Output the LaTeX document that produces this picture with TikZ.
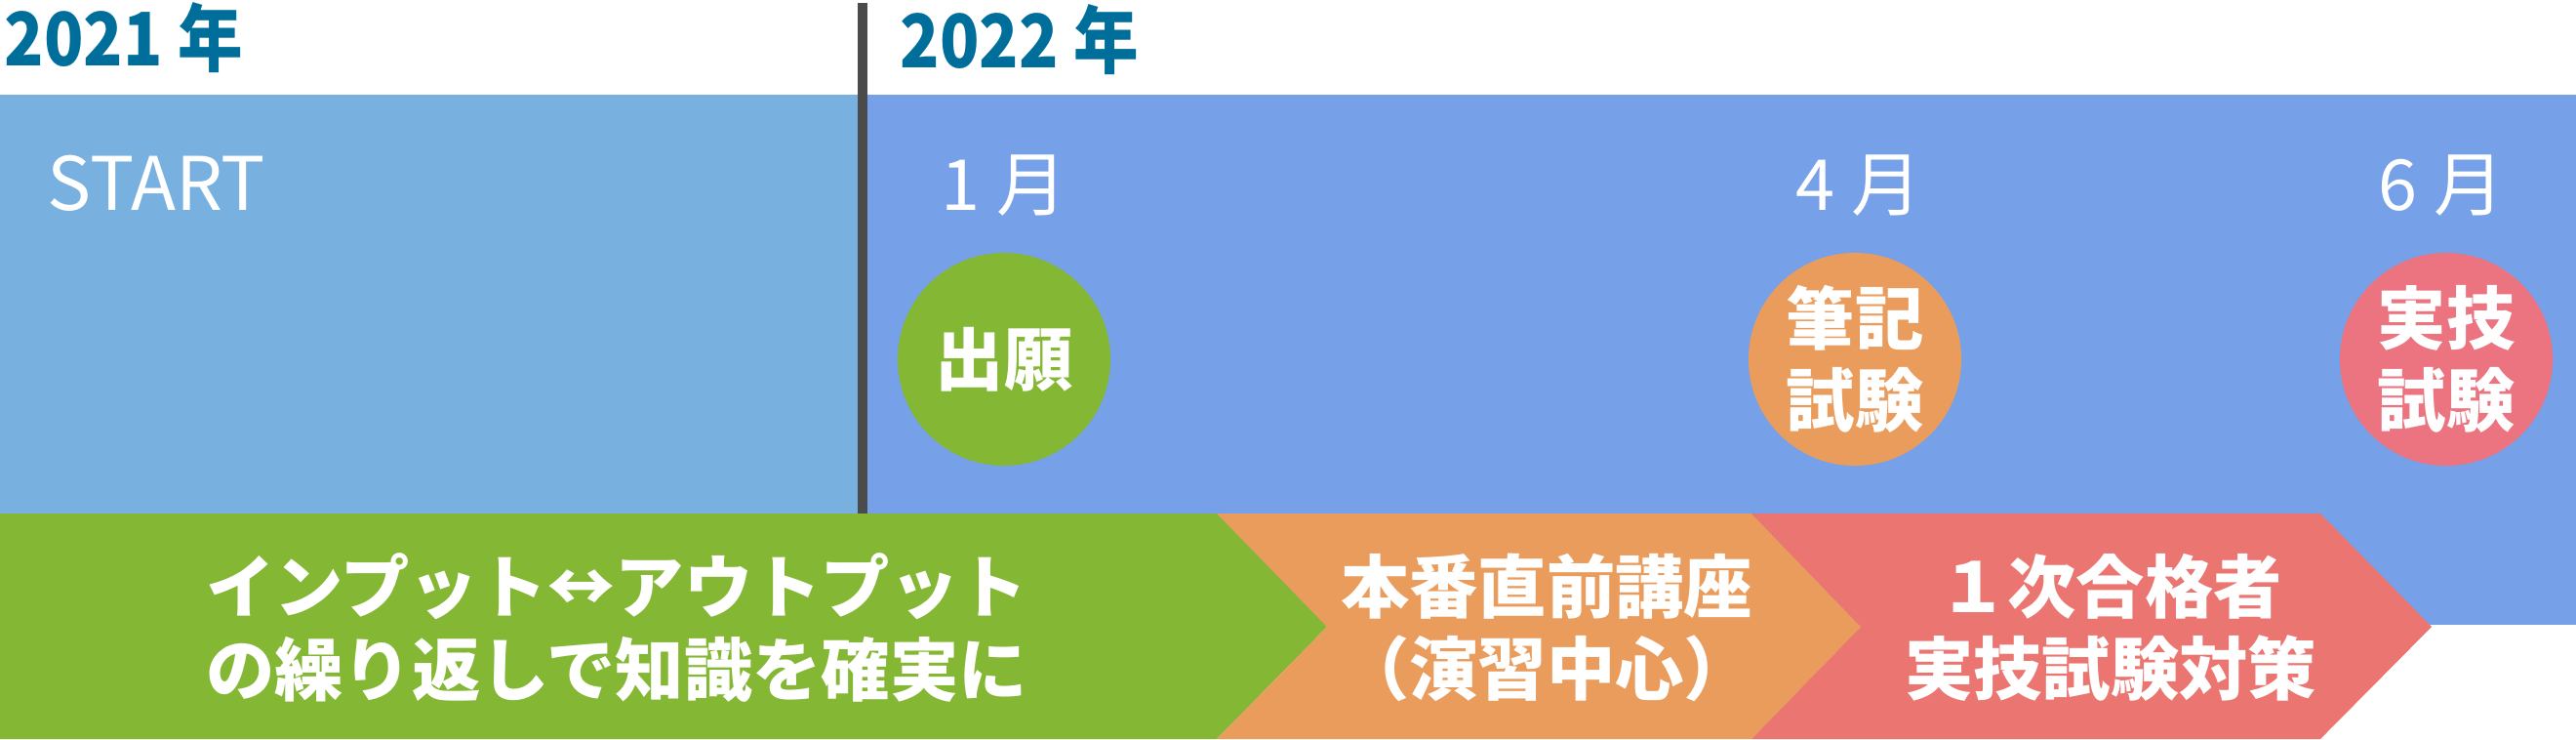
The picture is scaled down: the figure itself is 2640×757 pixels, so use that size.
\documentclass[tikz,border=0pt]{standalone}
\usepackage{fontspec}
\setmainfont{Noto Sans CJK JP}
\usepackage{xcolor}
\usetikzlibrary{positioning}

\definecolor{yearblue}{RGB}{0,110,155}
\definecolor{oldbg}{RGB}{120,176,224}
\definecolor{newbg}{RGB}{118,161,232}
\definecolor{divider}{RGB}{75,75,75}
\definecolor{leaf}{RGB}{132,183,51}
\definecolor{peach}{RGB}{234,156,92}
\definecolor{coral}{RGB}{235,117,112}
\definecolor{rose}{RGB}{235,116,128}

\begin{document}
\begin{tikzpicture}[
    x=0.01cm, y=-0.01cm,
    year/.style={anchor=west, inner sep=0pt, text=yearblue, font=\bfseries\fontsize{21.5}{24}\selectfont},
    month/.style={inner sep=0pt, text=white, font=\fontsize{20.5}{24}\selectfont},
    exam/.style={circle, minimum size=2.18cm, inner sep=0pt, align=center, text=white,
                 font=\bfseries\fontsize{20}{23.9}\selectfont},
    phase/.style={inner sep=0pt, align=center, text=white, font=\bfseries\fontsize{20}{23.9}\selectfont},
]
\useasboundingbox (0,0) rectangle (2640,757);

% ---------- Backgrounds ----------
\fill[oldbg] (0,97) rectangle (879,526);
\fill[newbg] (889,97) rectangle (2640,640);
\draw[divider, line width=0.1cm] (884,3) -- (884,526);

% ---------- Years ----------
\node[year] (y2021) at (4,39) {\scalebox{0.88}[1]{2021 年}};
\node[year] (y2022) at (922,41) {\scalebox{0.88}[1]{2022 年}};
\node[month, anchor=west, font=\fontsize{21.5}{24}\selectfont] (start) at (48,188) {START};

% ---------- Exams ----------
\node[exam, fill=leaf] (apply) at (1029,368) {出願};
\node[exam, fill=peach] (written) at (1901,368) {筆記\\試験};
\node[exam, fill=rose] (practical) at (2507,368) {実技\\試験};

\node[month] (jan) at (1029,190) {1 月};
\node[month] (apr) at (1905,190) {4 月};
\node[month] (jun) at (2502,190) {6 月};

% ---------- Phase chevrons ----------
\fill[leaf] (0,526) -- (1247,526) -- (1360,642) -- (1247,757) -- (0,757) -- cycle;
\fill[peach] (1247,526) -- (1795,526) -- (1907,642) -- (1795,757) -- (1247,757) -- (1360,642) -- cycle;
\fill[coral] (1795,526) -- (2378,526) -- (2492,642) -- (2378,757) -- (1795,757) -- (1907,642) -- cycle;

\node[phase] (review) at (632,643) {インプット↔アウトプット\\の繰り返しで知識を確実に};
\node[phase] (lecture) at (1585,643) {本番直前講座\\（演習中心）};
\node[phase] (passers) at (2163,643) {１次合格者\\実技試験対策};

\end{tikzpicture}
\end{document}
